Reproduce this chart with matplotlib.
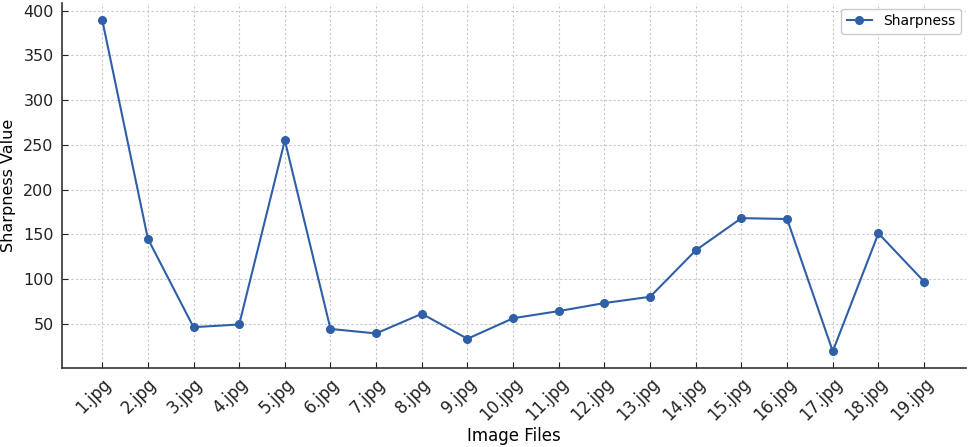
import matplotlib
matplotlib.use("Agg")
import matplotlib.pyplot as plt

# image file names and their sharpness values
files = ["%d.jpg" % i for i in range(1, 20)]
sharpness = [390, 145, 46, 49, 255, 44, 39, 61, 33, 56,
             64, 73, 80, 132, 168, 167, 19, 151, 97]

line_color = "#2e5fa7"

fig = plt.figure(figsize=(9.69, 4.47), dpi=100)
ax = fig.add_axes([0.064, 0.177, 0.933, 0.816])

ax.plot(files, sharpness, marker="o", color=line_color, linewidth=1.5,
        markersize=5.5, label="Sharpness")

ax.set_xlabel("Image Files", fontsize=12)
ax.xaxis.set_label_coords(0.5, -0.162)
ax.set_ylabel("Sharpness Value", fontsize=11.5, labelpad=5)
ax.set_xlim(-0.88, 18.92)
ax.set_yticks([50, 100, 150, 200, 250, 300, 350, 400])
ax.tick_params(axis="both", colors="#222222", direction="in", length=4.5, pad=6)
ax.tick_params(axis="y", labelsize=11.5)
ax.tick_params(axis="x", labelsize=12, pad=5)
plt.setp(ax.get_xticklabels(), rotation=45, ha="right", rotation_mode="anchor")

ax.grid(True, linestyle=(0, (2, 2)), color="#c8c8c8", linewidth=0.8)
ax.set_axisbelow(True)
for side in ["top", "right"]:
    ax.spines[side].set_visible(False)
for side in ["left", "bottom"]:
    ax.spines[side].set_color("#333333")
    ax.spines[side].set_linewidth(1.2)

ax.legend(loc="upper right", fontsize=10, framealpha=1, handlelength=1.8,
          borderaxespad=0.4)

fig.savefig("out.png", dpi=100)
